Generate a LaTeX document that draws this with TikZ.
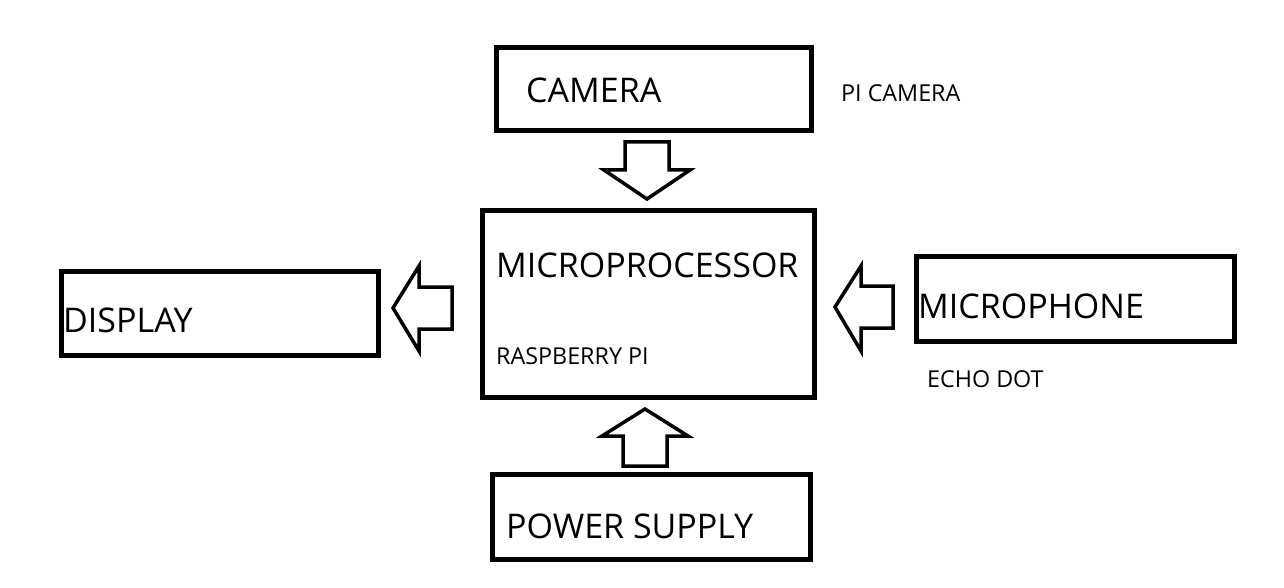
\documentclass[tikz,border=0pt]{standalone}
\usepackage{fontspec}
\setmainfont{Open Sans}
\usetikzlibrary{calc}
\begin{document}
\begin{tikzpicture}[x=1pt,y=-1pt,
  box/.style={draw=black,line width=5pt,inner sep=0pt,fill=none},
  big/.style={anchor=base west,inner sep=0pt,font=\fontsize{34}{34}\selectfont},
  small/.style={anchor=base west,inner sep=0pt,font=\fontsize{23.3}{23.3}\selectfont},
  blockarrow/.style={draw=black,line width=3.5pt,line join=miter,fill=white}]
\useasboundingbox[fill=white] (0,0) rectangle (1284,588);
% boxes
\node[box,minimum width=315pt,minimum height=83pt] (camera) at (653.5,89.5) {};
\node[box,minimum width=332pt,minimum height=187pt] (cpu) at (648.5,304) {};
\node[box,minimum width=317pt,minimum height=84pt] (display) at (220,313.5) {};
\node[box,minimum width=318pt,minimum height=85pt] (mic) at (1075,298.5) {};
\node[box,minimum width=318pt,minimum height=85pt] (power) at (651.5,517) {};
% texts
\node[big] (tcam) at (526,103) {CAMERA};
\node[small] (tpicam) at (841,102) {PI CAMERA};
\node[big] (tcpu) at (496,277) {MICROPROCESSOR};
\node[small] (trpi) at (496,364) {RASPBERRY PI};
\node[big] (tdisp) at (63,332) {DISPLAY};
\node[big] (tmic) at (918,318) {MICROPHONE};
\node[small] (techo) at (927,387) {ECHO DOT};
\node[big] (tpow) at (506,538) {POWER SUPPLY};
% block arrows
\coordinate (acam) at (647,142);
\coordinate (apow) at (645,466);
\coordinate (adisp) at (452,308);
\coordinate (amic) at (893,307);
\draw[blockarrow,shift={(acam)}] (-22,0) -- (22,0) -- (22,28) -- (43,28) -- (0,57) -- (-43,28) -- (-22,28) -- cycle;
\draw[blockarrow,shift={(apow)}] (-22,0) -- (22,0) -- (22,-30) -- (43,-30) -- (0,-57) -- (-43,-30) -- (-22,-30) -- cycle;
\draw[blockarrow,shift={(adisp)}] (0,-21) -- (0,21) -- (-33,21) -- (-33,43) -- (-59,0) -- (-33,-42) -- (-33,-21) -- cycle;
\draw[blockarrow,shift={(amic)}] (0,-21) -- (0,21) -- (-32,21) -- (-32,44) -- (-58,0) -- (-32,-41) -- (-32,-21) -- cycle;
\end{tikzpicture}
\end{document}
